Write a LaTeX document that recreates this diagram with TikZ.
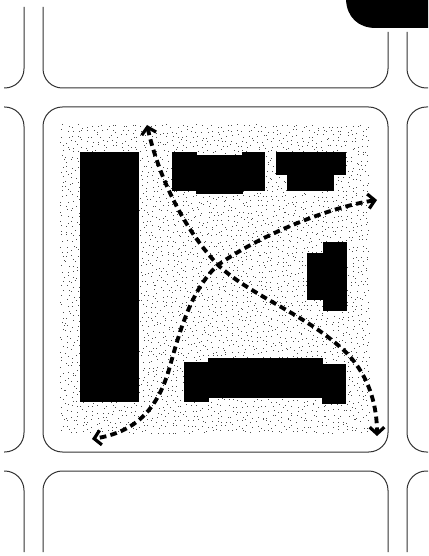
\documentclass[tikz,border=0pt]{standalone}
\usepackage{xcolor}
\usetikzlibrary{arrows.meta}
\definecolor{BlockLine}{HTML}{333333}

\begin{document}
\begin{tikzpicture}[
  x=0.75pt, y=-0.75pt,
  kerb/.style={draw=BlockLine, line width=0.75pt, rounded corners=14.5pt},
  building/.style={fill=black, draw=none},
  route/.style={line width=2.9pt, dash pattern=on 5pt off 3.2pt, {Straight Barb[length=5pt,width=11pt,line width=2.4pt]}-{Straight Barb[length=5pt,width=11pt,line width=2.4pt]}},
  speck/.style={fill=black!70, draw=none}
]
\useasboundingbox (0,0) rectangle (428,556);

% stippled ground
\pgfmathsetseed{4217}
\foreach \x in {62,67,...,368}{
  \foreach \y in {126,131,...,431}{
    \fill[speck] (\x+2*rand,\y+2*rand) rectangle +(0.8,0.8);
  }
}

% blocks
\draw[kerb] (43,7) -- (43,88) -- (388,88) -- (388,32);
\draw[kerb] (24,7) -- (24,88) -- (4,88);
\draw[kerb] (407,32) -- (407,88) -- (428,88);
\draw[kerb] (43,107) rectangle (388,452);
\draw[kerb] (4,107) -- (24,107) -- (24,452) -- (4,452);
\draw[kerb] (428,107) -- (407,107) -- (407,452) -- (428,452);
\draw[kerb] (4,471) -- (24,471) -- (24,552);
\draw[kerb] (43,552) -- (43,471) -- (388,471) -- (388,552);
\draw[kerb] (428,471) -- (407,471) -- (407,552);

% corner tab
\fill (346,0) .. controls (347,17) and (358,28) .. (376,28) -- (428,28) -- (428,0) -- cycle;

% buildings
\fill[building] (80,152) rectangle (139,402);
\fill[building] (172,152) rectangle (197,191);
\fill[building] (196,155) rectangle (243,194);
\fill[building] (242,152) rectangle (265,191);
\fill[building] (276,152) rectangle (346,175);
\fill[building] (287,174) rectangle (334,191);
\fill[building] (323,241.5) rectangle (347,311);
\fill[building] (307,253) rectangle (324,300);
\fill[building] (184,362) rectangle (209,402);
\fill[building] (208,358) rectangle (323,398);
\fill[building] (322,364) rectangle (346,404);

% routes
\coordinate (northTip) at (147,125);
\coordinate (southTip) at (377,436);
\coordinate (eastTip) at (377,200);
\coordinate (westTip) at (92,439);
\coordinate (crossing) at (218,265);
\draw[route] (northTip) .. controls (157,170) and (180,225) .. (crossing)
  .. controls (250,295) and (300,312) .. (339,346)
  .. controls (362,365) and (377,395) .. (southTip);
\draw[route] (eastTip) .. controls (330,207) and (260,235) .. (crossing)
  .. controls (192,288) and (180,330) .. (170,366)
  .. controls (158,410) and (135,432) .. (westTip);
\end{tikzpicture}
\end{document}
